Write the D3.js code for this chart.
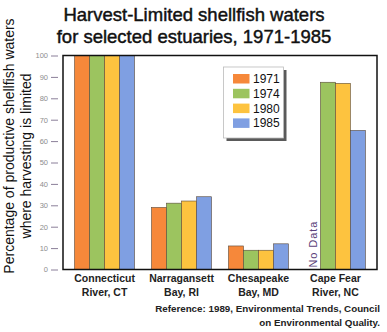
<!DOCTYPE html>
<html>
<head>
<meta charset="utf-8">
<script src="https://cdn.jsdelivr.net/npm/d3@7"></script>
<style>
  html, body { margin: 0; padding: 0; background: #ffffff; }
  svg { display: block; font-family: "Liberation Sans", Arial, sans-serif; }
</style>
</head>
<body>
<svg id="chart" width="387" height="332"></svg>
<script>
// Estuaries (two-line labels) and the survey years
const estuaries = ["Connecticut River, CT", "Narragansett Bay, RI", "Chesapeake Bay, MD", "Cape Fear River, NC"];
const estuaryLines = [["Connecticut", "River, CT"], ["Narragansett", "Bay, RI"], ["Chesapeake", "Bay, MD"], ["Cape Fear", "River, NC"]];
const years = ["1971", "1974", "1980", "1985"];

// Percent of productive shellfish waters where harvesting is limited (null = no data)
const values1971 = [100, 29, 11, null];
const values1974 = [100, 31, 9, 87.5];
const values1980 = [100, 32, 9, 87];
const values1985 = [100, 34, 12, 65];
const seriesValues = [values1971, values1974, values1980, values1985];

const yTicks = [0, 10, 20, 30, 40, 50, 60, 70, 80, 90, 100];
const yearColors = ["#f6883a", "#9cc45f", "#fdc33f", "#7f9fe2"];

const svg = d3.select("#chart");
const plot = { left: 63, right: 377, top: 55.5, bottom: 269.5 };

const x0 = d3.scaleBand().domain(estuaries).range([plot.left, plot.right])
  .paddingInner(0.22).paddingOuter(0.15);
const x1 = d3.scaleBand().domain(years).range([0, x0.bandwidth()]).padding(0);
const y = d3.scaleLinear().domain([0, 100]).range([plot.bottom, plot.top]);

// Title (slightly heavier than regular weight)
[["Harvest-Limited shellfish waters", 21], ["for selected estuaries, 1971-1985", 43]].forEach(([t, yy]) => {
  svg.append("text").attr("x", 194).attr("y", yy).attr("text-anchor", "middle")
    .attr("font-size", 18.5).attr("fill", "#111")
    .attr("stroke", "#111").attr("stroke-width", 0.45).text(t);
});

// Y axis title (two rotated lines)
svg.append("text").attr("transform", "translate(14,146) rotate(-90)")
  .attr("text-anchor", "middle").attr("font-size", 14).attr("fill", "#111")
  .text("Percentage of productive shellfish waters");
svg.append("text").attr("transform", "translate(31,156) rotate(-90)")
  .attr("text-anchor", "middle").attr("font-size", 14).attr("fill", "#111")
  .text("where harvesting is limited");

// Y axis: short detached ticks with light labels
const yAxis = d3.axisLeft(y).tickValues(yTicks).tickSize(7).tickPadding(3);
const gy = svg.append("g").attr("transform", `translate(${plot.left - 5},0)`).call(yAxis);
gy.select(".domain").remove();
gy.selectAll(".tick line").attr("stroke", "#8a7f99").attr("stroke-width", 1);
gy.selectAll(".tick text").attr("font-size", 7.5).attr("fill", "#8d8d8d");

// Bars
const groups = svg.append("g").selectAll("g").data(estuaries).join("g")
  .attr("transform", d => `translate(${x0(d)},0)`);
groups.selectAll("rect")
  .data((d, i) => years.map((yr, j) => ({ yr, j, v: seriesValues[j][i] })).filter(e => e.v !== null))
  .join("rect")
  .attr("x", e => x1(e.yr))
  .attr("y", e => y(e.v))
  .attr("width", x1.bandwidth())
  .attr("height", e => y(0) - y(e.v))
  .attr("fill", e => yearColors[e.j])
  .attr("stroke", "#5a4a3a").attr("stroke-width", 0.6);

// "No Data" marker where the 1971 Cape Fear value is missing
{
  const est = estuaries[3];
  const cx = x0(est) + x1("1971") + x1.bandwidth() / 2;
  svg.append("text").attr("transform", `translate(${cx + 4},${plot.bottom - 2}) rotate(-90)`)
    .attr("font-size", 11).attr("fill", "#5b3f7a").attr("letter-spacing", 0.9).text("No Data");
}

// Plot frame
svg.append("rect").attr("x", plot.left).attr("y", plot.top)
  .attr("width", plot.right - plot.left).attr("height", plot.bottom - plot.top)
  .attr("fill", "none").attr("stroke", "#111").attr("stroke-width", 1.5);

// Legend with drop shadow
const lg = { x: 223.5, y: 67, w: 60, h: 71 };
svg.append("rect").attr("x", lg.x + 3).attr("y", lg.y + 3).attr("width", lg.w).attr("height", lg.h)
  .attr("fill", "#5a5a5a");
svg.append("rect").attr("x", lg.x).attr("y", lg.y).attr("width", lg.w).attr("height", lg.h)
  .attr("fill", "#fff").attr("stroke", "#bbb").attr("stroke-width", 0.8);
const li = svg.append("g").selectAll("g").data(years).join("g")
  .attr("transform", (d, i) => `translate(${lg.x + 9.5},${lg.y + 7 + i * 14.8})`);
li.append("rect").attr("width", 16.5).attr("height", 9.5)
  .attr("fill", (d, i) => yearColors[i]);
li.append("text").attr("x", 20).attr("y", 9).attr("font-size", 12).attr("fill", "#111").text(d => d);

// Category labels
const cl = svg.append("g").selectAll("text").data(estuaries).join("text")
  .attr("text-anchor", "middle").attr("font-size", 10.5).attr("font-weight", "bold").attr("fill", "#222")
  .attr("transform", d => `translate(${x0(d) + x0.bandwidth() / 2},0)`);
cl.each(function (d, i) {
  const t = d3.select(this);
  estuaryLines[i].forEach((line, k) => t.append("tspan").attr("x", 0).attr("y", 282 + k * 14).text(line));
});

// Source note
svg.append("text").attr("x", 380).attr("y", 312).attr("text-anchor", "end")
  .attr("font-size", 9.8).attr("font-weight", "bold").attr("fill", "#222")
  .text("Reference: 1989, Environmental Trends, Council");
svg.append("text").attr("x", 380).attr("y", 325.5).attr("text-anchor", "end")
  .attr("font-size", 9.8).attr("font-weight", "bold").attr("fill", "#222")
  .text("on Environmental Quality.");
</script>
</body>
</html>
